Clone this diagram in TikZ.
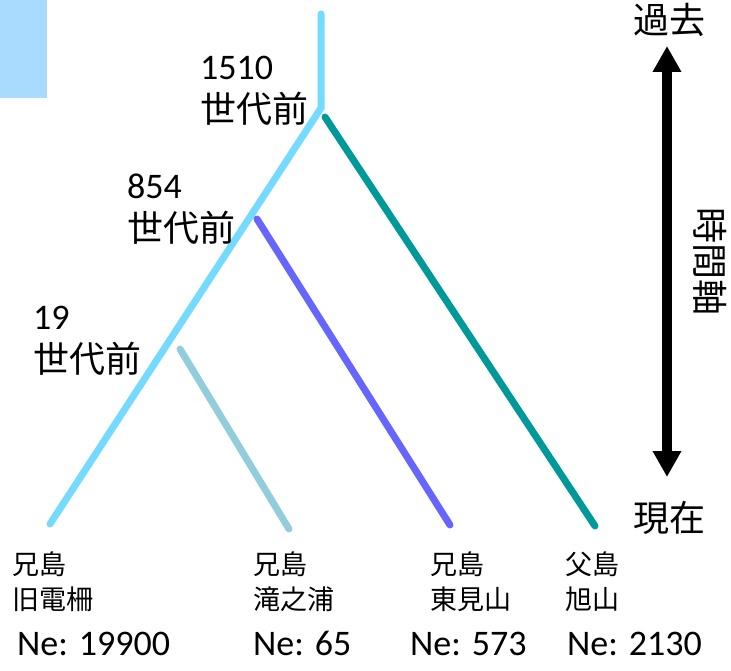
\documentclass[tikz,border=0pt]{standalone}
\usepackage{fontspec}
\setmainfont{Carlito}
\newfontfamily\jpfont{Noto Sans CJK JP}
\usetikzlibrary{arrows.meta}
\tikzset{>={Triangle[width=27pt,length=26pt]}}
\definecolor{skyblue}{HTML}{75DAFF}
\definecolor{paleblue}{HTML}{A9DBFF}
\definecolor{teal}{HTML}{009999}
\definecolor{violet}{HTML}{6666FF}
\definecolor{greyblue}{HTML}{92CDDC}
\tikzset{
  branch/.style={line width=7pt, line cap=round},
  gen/.style={anchor=west, align=left, inner sep=0pt,
    font=\fontsize{36}{43}\selectfont},
  site/.style={anchor=north west, align=left, inner sep=0pt,
    font=\jpfont\fontsize{27}{35}\selectfont},
  ne/.style={anchor=base west, inner sep=0pt, font=\fontsize{36}{40}\selectfont},
  big/.style={inner sep=0pt, font=\jpfont\fontsize{36}{40}\selectfont}
}

\begin{document}
\begin{tikzpicture}[x=1pt,y=-1pt]
\useasboundingbox (0,0) rectangle (731,671);

\fill[paleblue] (0,0) rectangle (47,98);

% tree
\coordinate (top) at (321,14);
\coordinate (root) at (321,108);
\coordinate (kyu) at (50,524);
\coordinate (tealtop) at (325,117);
\coordinate (asahi) at (595,526);
\coordinate (violettop) at (257,219);
\coordinate (higashi) at (450,525);
\coordinate (greytop) at (180,349);
\coordinate (taki) at (289,529);

\draw[branch, skyblue] (top) -- (root) -- (kyu);
\draw[branch, teal] (tealtop) -- (asahi);
\draw[branch, violet] (violettop) -- (higashi);
\draw[branch, greyblue] (greytop) -- (taki);

\node[gen] (g1510) at (200,91) {1510\\{\jpfont 世代前}};
\node[gen] (g854) at (127,209) {854\\{\jpfont 世代前}};
\node[gen] (g19) at (33,341) {19\\{\jpfont 世代前}};

% time axis
\node[big] (past) at (669,20) {過去};
\node[big] (now) at (669,518) {現在};
\coordinate (ptip) at (667,46);
\coordinate (ntip) at (667,477);
\draw[<->, line width=10pt] (ptip) -- (ntip);
\node[big, rotate=-90] (axis) at (710,262) {時間軸};

% populations
\node[site] (s1) at (12,552) {兄島\\旧電柵};
\node[site] (s2) at (253,552) {兄島\\滝之浦};
\node[site] (s3) at (430,552) {兄島\\東見山};
\node[site] (s4) at (565,552) {父島\\旭山};

\node[ne] (n1) at (17,655) {Ne: 19900};
\node[ne] (n2) at (253,655) {Ne: 65};
\node[ne] (n3) at (410,655) {Ne: 573};
\node[ne] (n4) at (567,655) {Ne: 2130};
\end{tikzpicture}
\end{document}
